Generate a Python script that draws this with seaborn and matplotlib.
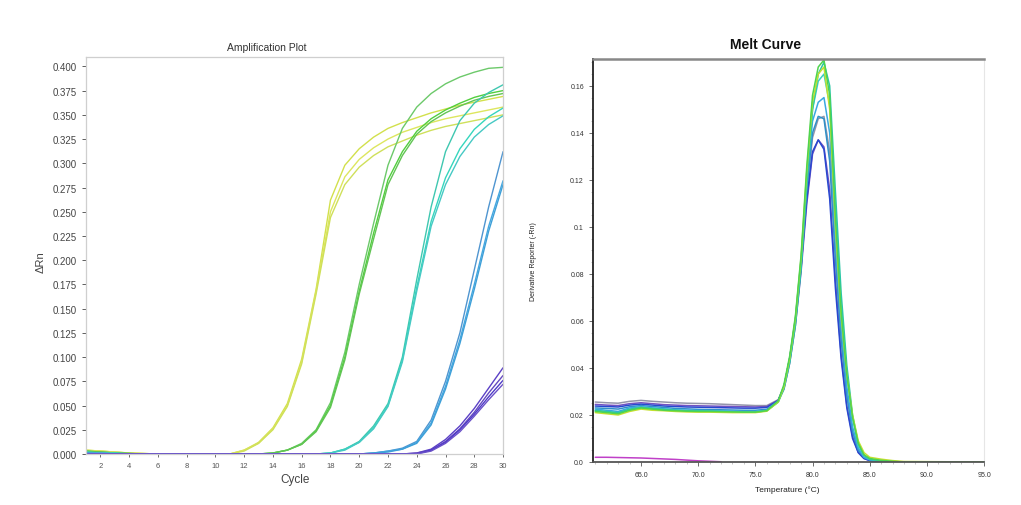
import matplotlib
matplotlib.use("Agg")
import matplotlib.pyplot as plt
import numpy as np
import pandas as pd
import seaborn as sns

# %%
# amplification data, delta Rn per cycle (cycles 1..30)
cycles = list(range(1, 31))

yellow_1 = [.004, .003, .002, .001, .0005, 0, 0, 0, 0, 0, 0, .004, .012, .027, .052,
            .098, .170, .262, .298, .315, .327, .336, .342, .347, .352, .356, .360, .363, .366, .369]
yellow_2 = [.004, .003, .002, .001, .0005, 0, 0, 0, 0, 0, 0, .004, .011, .026, .050,
            .095, .168, .250, .286, .304, .316, .325, .332, .337, .342, .346, .349, .352, .355, .358]
yellow_3 = [.003, .003, .002, .001, .0005, 0, 0, 0, 0, 0, 0, .003, .011, .025, .049,
            .093, .165, .244, .278, .296, .308, .317, .323, .329, .334, .338, .341, .344, .347, .350]
green_1 = [.003, .002, .001, .0005, 0, 0, 0, 0, 0, 0, 0, 0, 0, .001, .004,
           .011, .025, .053, .105, .175, .238, .298, .336, .358, .372, .382, .389, .394, .398, .399]
green_2 = [.003, .002, .001, .0005, 0, 0, 0, 0, 0, 0, 0, 0, 0, .001, .004,
           .010, .024, .050, .100, .168, .228, .283, .312, .333, .346, .355, .362, .368, .372, .375]
green_3 = [.002, .002, .001, .0005, 0, 0, 0, 0, 0, 0, 0, 0, 0, .001, .004,
           .010, .023, .048, .097, .165, .222, .278, .308, .330, .343, .352, .359, .365, .369, .372]
teal_1 = [.002, .001, .001, 0, 0, 0, 0, 0, 0, 0, 0, 0, 0, 0, 0,
          0, 0, .001, .005, .013, .029, .052, .100, .180, .255, .312, .344, .362, .373, .381]
teal_2 = [.002, .001, .001, 0, 0, 0, 0, 0, 0, 0, 0, 0, 0, 0, 0,
          0, 0, .001, .005, .012, .027, .050, .097, .172, .240, .285, .315, .335, .348, .357]
teal_3 = [.001, .001, 0, 0, 0, 0, 0, 0, 0, 0, 0, 0, 0, 0, 0,
          0, 0, .001, .004, .012, .026, .049, .095, .168, .235, .278, .307, .327, .340, .349]
blue_1 = [.001, .001, 0, 0, 0, 0, 0, 0, 0, 0, 0, 0, 0, 0, 0,
          0, 0, 0, 0, 0, .001, .003, .006, .013, .035, .075, .125, .190, .255, .312]
blue_2 = [.001, .001, 0, 0, 0, 0, 0, 0, 0, 0, 0, 0, 0, 0, 0,
          0, 0, 0, 0, 0, .001, .003, .005, .012, .032, .070, .118, .175, .235, .282]
blue_3 = [.001, 0, 0, 0, 0, 0, 0, 0, 0, 0, 0, 0, 0, 0, 0,
          0, 0, 0, 0, 0, .001, .002, .005, .011, .030, .067, .114, .170, .230, .278]
purple_1 = [0, 0, 0, 0, 0, 0, 0, 0, 0, 0, 0, 0, 0, 0, 0,
            0, 0, 0, 0, 0, 0, 0, 0, .001, .005, .015, .029, .047, .068, .089]
purple_2 = [0, 0, 0, 0, 0, 0, 0, 0, 0, 0, 0, 0, 0, 0, 0,
            0, 0, 0, 0, 0, 0, 0, 0, .001, .004, .013, .026, .043, .063, .081]
purple_3 = [0, 0, 0, 0, 0, 0, 0, 0, 0, 0, 0, 0, 0, 0, 0,
            0, 0, 0, 0, 0, 0, 0, 0, 0, .004, .012, .025, .041, .059, .076]
purple_4 = [0, 0, 0, 0, 0, 0, 0, 0, 0, 0, 0, 0, 0, 0, 0,
            0, 0, 0, 0, 0, 0, 0, 0, 0, .003, .011, .023, .039, .056, .072]

amp_curves = {
    "Y1": (yellow_1, "#d2e04c"), "Y2": (yellow_2, "#dde65e"), "Y3": (yellow_3, "#cfe05a"),
    "G1": (green_1, "#6cc96a"), "G2": (green_2, "#52cf3e"), "G3": (green_3, "#62c455"),
    "T1": (teal_1, "#3fc7b0"), "T2": (teal_2, "#35d6bd"), "T3": (teal_3, "#46c9c4"),
    "B1": (blue_1, "#4f95d0"), "B2": (blue_2, "#45a8e0"), "B3": (blue_3, "#3d9fd8"),
    "P1": (purple_1, "#5b40c6"), "P2": (purple_2, "#6448c0"), "P3": (purple_3, "#4e3ac8"),
    "P4": (purple_4, "#6a50c8"),
}
amp_ticks = list(range(2, 31, 2))

# %%
# melt curve data, derivative reporter vs temperature
temps = [61, 62, 63, 64, 65, 66, 67, 68, 69, 70, 71, 72, 73, 74, 75, 76, 77, 77.5, 78, 78.5,
         79, 79.5, 80, 80.5, 81, 81.5, 82, 82.5, 83, 83.5, 84, 84.5, 85, 86, 87, 88, 95]

melt_yellow = [.021, .0205, .020, .0215, .0225, .022, .0218, .0215, .0213, .0212, .0212, .0211, .0210,
               .0210, .0210, .0216, .0255, .032, .044, .061, .087, .124, .153, .165, .168, .150, .100,
               .062, .037, .020, .009, .004, .002, .0012, .0006, .0002, 0]
melt_green = [.0215, .021, .0205, .022, .023, .0225, .022, .0218, .0216, .0215, .0215, .0214, .0213,
              .0212, .0212, .0218, .026, .033, .045, .062, .088, .126, .156, .168, .171, .156, .104,
              .064, .037, .019, .008, .003, .0015, .0007, .0003, 0, 0]
melt_teal = [.022, .0215, .021, .0225, .0232, .0228, .0224, .022, .0218, .0217, .0216, .0215, .0214,
             .0213, .0213, .0219, .0255, .031, .042, .058, .082, .118, .150, .165, .170, .160, .115,
             .072, .041, .020, .008, .003, .0012, .0005, .0002, 0, 0]
melt_aqua = [.0218, .0212, .0208, .0222, .023, .0226, .0222, .0219, .0217, .0216, .0215, .0214, .0213,
             .0212, .0212, .0218, .0255, .032, .043, .060, .085, .121, .150, .162, .165, .152, .108,
             .067, .038, .019, .007, .003, .0012, .0005, .0002, 0, 0]
melt_sky = [.0225, .022, .0215, .023, .0235, .023, .0226, .0222, .022, .0219, .0218, .0217, .0216,
            .0215, .0215, .022, .0258, .032, .044, .061, .086, .120, .145, .153, .155, .140, .095,
            .058, .032, .015, .006, .002, .001, .0004, 0, 0, 0]
melt_steel = [.023, .0228, .0225, .0235, .024, .0236, .0232, .0228, .0226, .0224, .0223, .0222, .0221,
              .0220, .0220, .0224, .026, .032, .044, .060, .084, .117, .140, .147, .146, .128, .086,
              .052, .028, .013, .005, .002, .0008, .0003, 0, 0, 0]
melt_blue = [.0238, .0236, .0234, .0242, .0246, .0242, .0238, .0236, .0234, .0233, .0232, .0231, .023,
             .0229, .0229, .0232, .0262, .032, .044, .060, .083, .112, .132, .137, .133, .112, .074,
             .044, .023, .010, .004, .0015, .0006, .0002, 0, 0, 0]
melt_purple = [.0245, .0242, .024, .0248, .0252, .0248, .0244, .0242, .024, .0239, .0238, .0237, .0236,
               .0235, .0234, .0236, .0262, .031, .042, .058, .081, .110, .131, .137, .134, .116, .078,
               .046, .024, .011, .004, .0015, .0006, .0002, 0, 0, 0]
melt_gray = [.0255, .0252, .025, .0258, .0262, .0258, .0255, .0252, .025, .0249, .0248, .0246, .0244,
             .0242, .0240, .0240, .0265, .032, .043, .059, .083, .115, .138, .146, .147, .132, .090,
             .054, .029, .013, .005, .002, .0008, .0003, 0, 0, 0]

ntc_temps = [61, 62, 63, 64, 65, 66, 67, 68, 69, 70, 71, 72]
melt_ntc = [.002, .002, .0019, .0018, .0017, .0015, .0013, .0011, .0008, .0005, .0003, .0001]

melt_curves = {
    "gray": (melt_gray, "#9494aa"), "purple": (melt_purple, "#7452c0"),
    "blue": (melt_blue, "#2848d0"), "steel": (melt_steel, "#2f90c8"),
    "sky": (melt_sky, "#3aa8e0"), "aqua": (melt_aqua, "#3ad0c0"),
    "teal": (melt_teal, "#2cc7a5"), "yellow": (melt_yellow, "#c5e02e"),
    "green": (melt_green, "#4fd44f"),
}
melt_yticks = [0.0, 0.02, 0.04, 0.06, 0.08, 0.1, 0.12, 0.14, 0.16]
melt_ylabels = ["0.0", "0.02", "0.04", "0.06", "0.08", "0.1", "0.12", "0.14", "0.16"]
melt_xticks = [65.0, 70.0, 75.0, 80.0, 85.0, 90.0, 95.0]

# %%
# long-form tables for seaborn
amp_df = pd.concat([pd.DataFrame({"Cycle": cycles, "dRn": vals, "well": name})
                    for name, (vals, _) in amp_curves.items()])
amp_palette = {name: col for name, (_, col) in amp_curves.items()}

melt_df = pd.concat([pd.DataFrame({"Temp": temps, "dR": vals, "well": name})
                     for name, (vals, _) in melt_curves.items()])
melt_palette = {name: col for name, (_, col) in melt_curves.items()}

# %%
sns.set_theme(style="white")
plt.rcParams["font.family"] = ["Liberation Sans", "DejaVu Sans"]

fig = plt.figure(figsize=(10.21, 5.06), dpi=100)
ax1 = fig.add_axes([0.0842, 0.1008, 0.4085, 0.7852])
ax2 = fig.add_axes([0.5808, 0.0850, 0.3830, 0.7964])

# amplification plot
sns.lineplot(data=amp_df, x="Cycle", y="dRn", hue="well", palette=amp_palette,
             estimator=None, legend=False, linewidth=1.0, ax=ax1)
ax1.set_xlim(1, 30)
ax1.set_ylim(0, 0.410)
ax1.set_xticks(amp_ticks)
ax1.set_yticks(np.arange(0, 0.401, 0.025))
ax1.set_yticklabels([f"{v:.3f}" for v in np.arange(0, 0.401, 0.025)])
ax1.tick_params(axis="y", labelsize=7, colors="#444444", length=3, width=0.6, direction="out", left=True)
ax1.tick_params(axis="x", labelsize=5.5, colors="#555555", length=2, width=0.6, direction="out", bottom=True)
for sp in ax1.spines.values():
    sp.set_color("#cfcfcf")
    sp.set_linewidth(0.9)
ax1.set_xlabel("")
ax1.set_ylabel("")
fig.text(267 / 1021, 1 - 48 / 506, "Amplification Plot", ha="center", va="center",
         fontsize=7.5, color="#333333")
fig.text(295 / 1021, 1 - 480 / 506, "Cycle", ha="center", va="center", fontsize=8.5, color="#444444")
fig.text(41 / 1021, 1 - 262 / 506, "ΔRn", ha="center", va="center", rotation=90,
         fontsize=8, color="#444444")

# melt curve
sns.lineplot(data=melt_df, x="Temp", y="dR", hue="well", palette=melt_palette,
             estimator=None, legend=False, linewidth=1.1, ax=ax2)
ax2.plot(ntc_temps, melt_ntc, color="#c040c8", linewidth=1.1)
ax2.set_xlim(60.8, 95)
ax2.set_ylim(0, 0.1714)
ax2.set_xticks(melt_xticks)
ax2.set_xticklabels([f"{v:.1f}" for v in melt_xticks])
ax2.set_yticks(melt_yticks)
ax2.set_yticklabels(melt_ylabels)
ax2.set_xticks(np.arange(61, 96, 1), minor=True)
ax2.set_yticks(np.arange(0, 0.171, 0.005), minor=True)
ax2.tick_params(axis="both", which="major", labelsize=5, colors="#333333", length=3, width=0.5,
                direction="out", left=True, bottom=True)
ax2.tick_params(axis="both", which="minor", length=1.5, width=0.4, color="#999999",
                direction="out", left=True, bottom=True)
ax2.spines["left"].set_color("#222222")
ax2.spines["left"].set_linewidth(1.3)
ax2.spines["bottom"].set_color("#555555")
ax2.spines["bottom"].set_linewidth(1.3)
ax2.spines["top"].set_color("#888888")
ax2.spines["top"].set_linewidth(1.8)
ax2.spines["right"].set_color("#e6e6e6")
ax2.spines["right"].set_linewidth(0.8)
ax2.set_xlabel("")
ax2.set_ylabel("")
fig.text(766 / 1021, 1 - 45 / 506, "Melt Curve", ha="center", va="center",
         fontsize=10, fontweight="bold", color="#111111")
fig.text(787 / 1021, 1 - 490 / 506, "Temperature (°C)", ha="center", va="center",
         fontsize=6, color="#222222")
fig.text(533 / 1021, 1 - 262 / 506, "Derivative Reporter (-Rn)", ha="center", va="center",
         rotation=90, fontsize=5, color="#222222")

fig.savefig("out.png", dpi=100)
